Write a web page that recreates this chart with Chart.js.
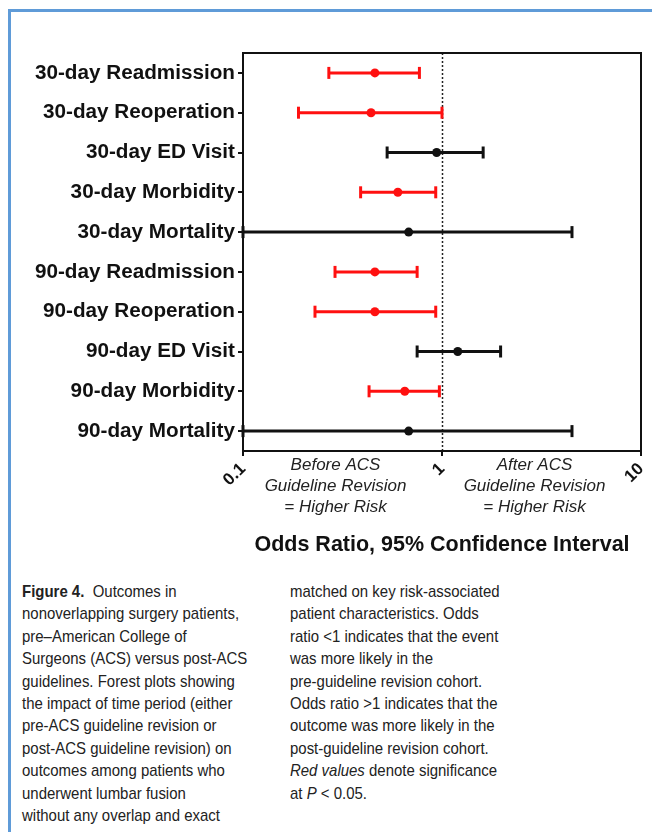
<!DOCTYPE html>
<html>
<head>
<meta charset="utf-8">
<script src="https://cdn.jsdelivr.net/npm/chart.js@4.4.1/dist/chart.umd.min.js"></script>
<style>
  html, body { margin: 0; padding: 0; background: #fff; }
  body { width: 652px; height: 832px; position: relative; overflow: hidden; }
  .rule-top { position: absolute; left: 8px; top: 9px; width: 644px; height: 3px; background: #5f9bd8; }
  .rule-left { position: absolute; left: 8px; top: 9px; width: 3px; height: 823px; background: #5f9bd8; }
  #wrap { position: absolute; left: 0; top: 0; width: 652px; height: 570px; }
  .caption { position: absolute; top: 581px; font-family: "Liberation Sans", Arial, sans-serif;
             font-size: 17px; line-height: 22.4px; color: #222; white-space: nowrap;
             transform: scaleX(0.88); transform-origin: 0 0; }
  .caption.left { left: 22px; }
  .caption.right { left: 290px; }
</style>
</head>
<body>
<div class="rule-top"></div>
<div class="rule-left"></div>
<div id="wrap"><canvas id="chart"></canvas></div>

<div class="caption left">
  <b>Figure 4.</b>&nbsp; Outcomes in<br>
  nonoverlapping surgery patients,<br>
  pre&ndash;American College of<br>
  Surgeons (ACS) versus post-ACS<br>
  guidelines. Forest plots showing<br>
  the impact of time period (either<br>
  pre-ACS guideline revision or<br>
  post-ACS guideline revision) on<br>
  outcomes among patients who<br>
  underwent lumbar fusion<br>
  without any overlap and exact
</div>
<div class="caption right">
  matched on key risk-associated<br>
  patient characteristics. Odds<br>
  ratio &lt;1 indicates that the event<br>
  was more likely in the<br>
  pre-guideline revision cohort.<br>
  Odds ratio &gt;1 indicates that the<br>
  outcome was more likely in the<br>
  post-guideline revision cohort.<br>
  <i>Red values</i> denote significance<br>
  at <i>P</i> &lt; 0.05.
</div>

<script>
// Outcomes, top to bottom
const categories = [
  '30-day Readmission', '30-day Reoperation', '30-day ED Visit', '30-day Morbidity', '30-day Mortality',
  '90-day Readmission', '90-day Reoperation', '90-day ED Visit', '90-day Morbidity', '90-day Mortality'
];
// Odds ratios with lower / upper 95% confidence limits
const oddsRatio = [0.46, 0.44, 0.94, 0.60, 0.68, 0.46, 0.46, 1.20, 0.65, 0.68];
const ciLower   = [0.27, 0.19, 0.53, 0.39, 0.10, 0.29, 0.23, 0.75, 0.43, 0.10];
const ciUpper   = [0.77, 1.00, 1.61, 0.93, 4.50, 0.75, 0.93, 1.97, 0.97, 4.50];
// Significant at P < 0.05
const significant = [true, true, false, true, false, true, true, false, true, false];

const xTickValues = [0.1, 1, 10];
const xTickLabels = ['0.1', '1', '10'];
const referenceOR = 1;
const leftNote  = ['Before ACS', 'Guideline Revision', '= Higher Risk'];
const rightNote = ['After ACS', 'Guideline Revision', '= Higher Risk'];

const RED = '#ff1010';
const BLACK = '#111111';
const FONT = 'Arial, "Liberation Sans", Helvetica, sans-serif';
Chart.defaults.font.family = FONT;
Chart.defaults.color = '#111';

const colorOf = i => significant[i] ? RED : BLACK;

// One line dataset per interval, with vertical caps at both ends
const intervalSets = categories.map((c, i) => ({
  type: 'line',
  label: c,
  data: [{ x: ciLower[i], y: i }, { x: ciUpper[i], y: i }],
  borderColor: colorOf(i),
  borderWidth: 3,
  pointStyle: 'line',
  pointRotation: 90,
  pointRadius: 6,
  pointBorderWidth: 3,
  pointBorderColor: colorOf(i),
  clip: false,
  order: 2
}));

const estimateSet = {
  type: 'scatter',
  label: 'Odds ratio',
  data: oddsRatio.map((v, i) => ({ x: v, y: i })),
  pointRadius: 4.5,
  pointBackgroundColor: categories.map((c, i) => colorOf(i)),
  pointBorderColor: categories.map((c, i) => colorOf(i)),
  pointBorderWidth: 0,
  clip: false,
  order: 1
};

// Plot frame, dotted no-effect line and the direction notes under the axis
const forestDecor = {
  id: 'forestDecor',
  beforeDatasetsDraw(chart) {
    const { ctx, chartArea: { left, top, right, bottom }, scales: { x } } = chart;
    ctx.save();
    const xr = Math.round(x.getPixelForValue(referenceOR)) + 0.5;
    ctx.setLineDash([2, 2]);
    ctx.lineWidth = 1.5;
    ctx.strokeStyle = '#222';
    ctx.beginPath();
    ctx.moveTo(xr, top);
    ctx.lineTo(xr, bottom);
    ctx.stroke();
    ctx.setLineDash([]);
    ctx.lineWidth = 2;
    ctx.strokeStyle = BLACK;
    ctx.strokeRect(left, top, right - left, bottom - top);
    ctx.restore();
  },
  afterDraw(chart) {
    const { ctx, chartArea: { bottom }, scales: { x } } = chart;
    const p0 = x.getPixelForValue(xTickValues[0]);
    const p1 = x.getPixelForValue(xTickValues[1]);
    const p2 = x.getPixelForValue(xTickValues[2]);
    ctx.save();
    ctx.font = 'italic 17px ' + FONT;
    ctx.fillStyle = '#222';
    ctx.textAlign = 'center';
    ctx.textBaseline = 'middle';
    leftNote.forEach((t, k) => ctx.fillText(t, (p0 + p1) / 2 - 7, bottom + 14 + k * 21));
    rightNote.forEach((t, k) => ctx.fillText(t, (p1 + p2) / 2 - 7, bottom + 14 + k * 21));
    ctx.restore();
  }
};

new Chart(document.getElementById('chart'), {
  data: { datasets: [estimateSet, ...intervalSets] },
  options: {
    responsive: true,
    maintainAspectRatio: false,
    animation: false,
    layout: { padding: { top: 53, right: 11, left: 0, bottom: 0 } },
    plugins: { legend: { display: false }, tooltip: { enabled: false } },
    scales: {
      x: {
        type: 'logarithmic',
        min: 0.1,
        max: 10,
        afterBuildTicks: s => { s.ticks = xTickValues.map(v => ({ value: v })); },
        afterFit: s => { s.height = 119; s.paddingLeft = 0; s.paddingRight = 0; },
        border: { display: true, color: BLACK, width: 2 },
        grid: { drawOnChartArea: false, drawTicks: true, tickLength: 5, color: BLACK, lineWidth: 2 },
        ticks: {
          minRotation: 45, maxRotation: 45, padding: 3,
          font: { size: 17, weight: 'bold' }, color: '#111',
          callback: (v) => xTickLabels[xTickValues.indexOf(v)]
        },
        title: {
          display: true,
          text: 'Odds Ratio, 95% Confidence Interval',
          font: { size: 21.5, weight: 'bold' },
          color: '#111',
          padding: { top: 0, bottom: 12 }
        }
      },
      y: {
        type: 'linear',
        reverse: true,
        min: -0.5,
        max: 9.5,
        afterBuildTicks: s => { s.ticks = categories.map((c, i) => ({ value: i })); },
        afterFit: s => { s.width = 243; s.paddingTop = 0; s.paddingBottom = 0; },
        border: { display: true, color: BLACK, width: 2 },
        grid: { drawOnChartArea: false, drawTicks: true, tickLength: 5, color: BLACK, lineWidth: 2 },
        ticks: {
          padding: 3,
          font: { size: 20.7, weight: 'bold' }, color: '#111',
          callback: (v) => categories[v]
        }
      }
    }
  },
  plugins: [forestDecor]
});
</script>
</body>
</html>
